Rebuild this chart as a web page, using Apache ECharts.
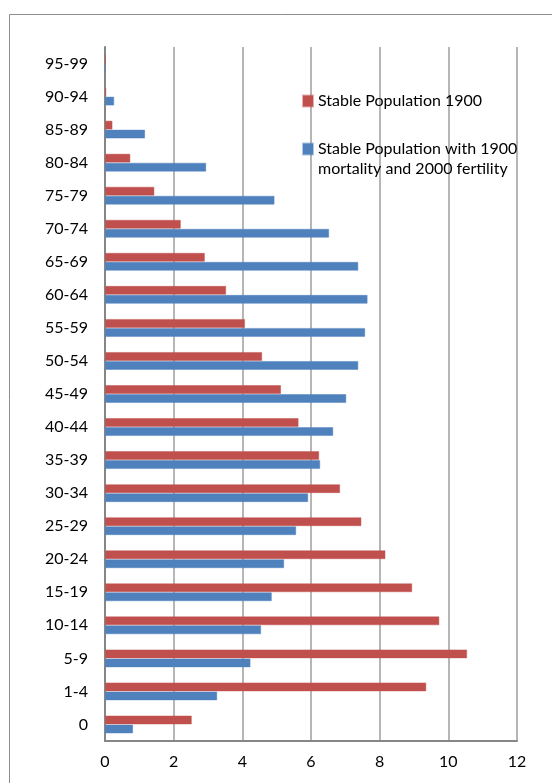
<!DOCTYPE html>
<html>
<head>
<meta charset="utf-8">
<script src="https://cdn.jsdelivr.net/npm/echarts@6/dist/echarts.min.js"></script>
<style>
  html, body { margin: 0; padding: 0; background: #fff; }
  #chart { width: 552px; height: 783px; }
</style>
</head>
<body>
<div id="chart"></div>
<script>
// Age groups, bottom to top
const ageGroups = ['0', '1-4', '5-9', '10-14', '15-19', '20-24', '25-29', '30-34', '35-39',
  '40-44', '45-49', '50-54', '55-59', '60-64', '65-69', '70-74', '75-79', '80-84',
  '85-89', '90-94', '95-99'];

// Percent of population in each age group
const stable1900 = [2.53, 9.36, 10.55, 9.74, 8.95, 8.17, 7.47, 6.85, 6.24,
  5.64, 5.13, 4.58, 4.08, 3.53, 2.91, 2.21, 1.44, 0.74, 0.22, 0.04, 0.02];
const stableMixed = [0.82, 3.27, 4.24, 4.55, 4.86, 5.22, 5.57, 5.92, 6.27,
  6.65, 7.03, 7.38, 7.58, 7.65, 7.38, 6.53, 4.94, 2.95, 1.17, 0.27, 0.02];

const xTicks = [0, 2, 4, 6, 8, 10, 12];

const name1900 = 'Stable Population 1900';
const nameMixed = 'Stable Population with 1900 mortality and 2000 fertility';
const mixedLines = ['Stable Population with 1900', 'mortality and 2000 fertility'];

const FONT = 'Lato, "Open Sans", sans-serif';
const FS = 16;

const chart = echarts.init(document.getElementById('chart'), null, { renderer: 'canvas' });

chart.setOption({
  animation: false,
  backgroundColor: '#ffffff',
  textStyle: { fontFamily: FONT },
  graphic: [{
    type: 'rect',
    silent: true,
    shape: { x: 9.5, y: 14.5, width: 700, height: 900 },
    style: { fill: 'none', stroke: '#8c8c8c', lineWidth: 1 }
  }],
  grid: { left: 105, right: 35, top: 47, bottom: 42, containLabel: false },
  legend: [{
    data: [name1900],
    orient: 'vertical',
    left: 302,
    top: 91,
    padding: 0,
    itemWidth: 10,
    itemHeight: 11,
    icon: 'rect',
    textStyle: { fontFamily: FONT, fontSize: FS, color: '#000', lineHeight: 20 }
  }, {
    data: [nameMixed],
    orient: 'vertical',
    left: 302,
    top: 141,
    padding: 0,
    itemWidth: 10,
    itemHeight: 11,
    icon: 'rect',
    // first line sits level with the marker, second line below it
    formatter: function () { return '{a|' + mixedLines[0] + '}\n{b|' + mixedLines[1] + '}'; },
    textStyle: {
      fontFamily: FONT, fontSize: FS, color: '#000',
      rich: {
        a: { fontFamily: FONT, fontSize: FS, color: '#000', height: 20, padding: [20, 0, 0, 0] },
        b: { fontFamily: FONT, fontSize: FS, color: '#000', height: 20, lineHeight: 20 }
      }
    }
  }],
  xAxis: {
    type: 'value',
    min: xTicks[0],
    max: xTicks[xTicks.length - 1],
    interval: 2,
    axisLine: { show: true, lineStyle: { color: '#868686', width: 2 } },
    axisTick: { show: false },
    axisLabel: { fontFamily: FONT, fontSize: FS, color: '#000', margin: 13 },
    splitLine: { show: true, lineStyle: { color: '#9e9e9e', width: 1.5 } }
  },
  yAxis: {
    type: 'category',
    data: ageGroups,
    axisLine: { show: true, lineStyle: { color: '#868686', width: 2 } },
    axisTick: { show: false },
    axisLabel: { fontFamily: FONT, fontSize: FS, color: '#000', margin: 17 },
    splitLine: { show: false }
  },
  series: [{
    name: name1900,
    type: 'bar',
    data: stable1900,
    barWidth: 9,
    barGap: '0%',
    itemStyle: { color: '#c0504d', borderColor: 'rgba(192,80,77,0.45)', borderWidth: 1 }
  }, {
    name: nameMixed,
    type: 'bar',
    data: stableMixed,
    barWidth: 9,
    barGap: '0%',
    itemStyle: { color: '#4f81bd', borderColor: 'rgba(79,129,189,0.45)', borderWidth: 1 }
  }]
});
</script>
</body>
</html>
